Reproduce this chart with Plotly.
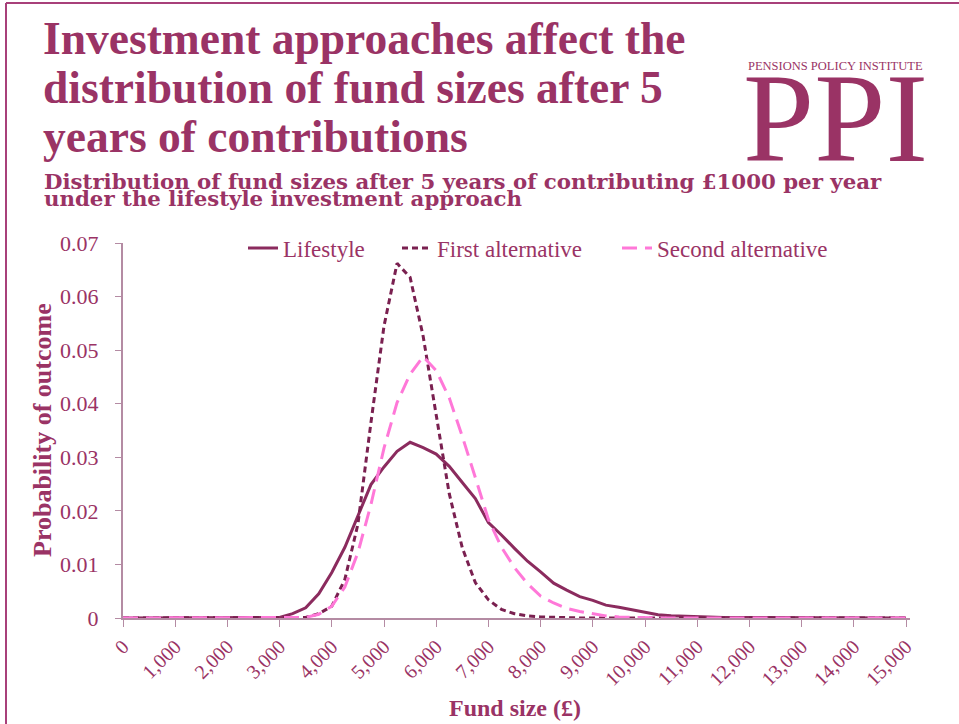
import plotly.graph_objects as go

# Fund size grid (£) and probability of each outcome for the three approaches
fund_size = [i * 250 for i in range(61)]

lifestyle = [
    0, 0, 0, 0, 0, 0, 0, 0, 0, 0, 0, 0,            # 0 - 2,750
    0.0001, 0.0008, 0.0019, 0.0045, 0.0085, 0.0132, 0.0192, 0.0249,
    0.0282, 0.0311, 0.0328, 0.0318, 0.0306, 0.0283, 0.0253, 0.0223,
    0.0178, 0.0155, 0.0130, 0.0106, 0.0086, 0.0065, 0.0052, 0.0040,
    0.0033, 0.0024, 0.0020, 0.0015, 0.0010, 0.0006, 0.0004, 0.0003,
    0.0002, 0.0002, 0.0001, 0.0001, 0.0001, 0.00005,
    0, 0, 0, 0, 0, 0, 0, 0, 0, 0, 0,                 # 12,500 - 15,000
]

first_alternative = [
    0, 0, 0, 0, 0, 0, 0, 0, 0, 0, 0, 0, 0, 0,       # 0 - 3,250
    0.0001, 0.0008, 0.0022, 0.0072, 0.0175, 0.0365, 0.0545, 0.0662,
    0.0636, 0.0526, 0.0381, 0.0232, 0.0131, 0.0066, 0.0034, 0.0016,
    0.0008, 0.0004, 0.0002, 0.0001, 0.00005,
    0, 0, 0, 0, 0, 0, 0, 0, 0, 0, 0, 0, 0, 0, 0, 0, 0, 0, 0, 0, 0, 0, 0, 0, 0, 0,
]

second_alternative = [
    0, 0, 0, 0, 0, 0, 0, 0, 0, 0, 0, 0, 0, 0,       # 0 - 3,250
    0.0001, 0.0007, 0.0022, 0.0058, 0.0122, 0.0212, 0.0317, 0.0402,
    0.0455, 0.0488, 0.0462, 0.0411, 0.0339, 0.0262, 0.0184, 0.0132,
    0.0094, 0.0064, 0.0041, 0.0028, 0.0018, 0.0012, 0.0008, 0.0004,
    0.0002, 0.0001, 0.00005,
    0, 0, 0, 0, 0, 0, 0, 0, 0, 0, 0, 0, 0, 0, 0, 0, 0, 0, 0, 0,
]

x_ticks = list(range(0, 15001, 1000))
x_tick_labels = [f"{v:,}" for v in x_ticks]
y_ticks = [0, 0.01, 0.02, 0.03, 0.04, 0.05, 0.06, 0.07]
y_tick_labels = ["0", "0.01", "0.02", "0.03", "0.04", "0.05", "0.06", "0.07"]

title_lines = [
    "Investment approaches affect the",
    "distribution of fund sizes after 5",
    "years of contributions",
]
subtitle_lines = [
    "Distribution of fund sizes after 5 years of contributing £1000 per year",
    "under the lifestyle investment approach",
]

W, H = 959, 724
L, R, T, B = 123, 910, 243, 618
PLUM = "#9A3365"
SERIF = "Liberation Serif"
WIDE_SERIF = "DejaVu Serif"


def px(x):
    return (x - L) / (R - L)


def py(y):
    return (B - y) / (B - T)


fig = go.Figure()
fig.add_trace(go.Scatter(
    x=fund_size, y=lifestyle, name="Lifestyle", mode="lines",
    line=dict(color="#8B2B5E", width=3), legend="legend", showlegend=True,
))
fig.add_trace(go.Scatter(
    x=fund_size, y=first_alternative, name="First alternative", mode="lines",
    line=dict(color="#7A2050", width=3, dash="6px,4px"), legend="legend2",
    showlegend=True,
))
fig.add_trace(go.Scatter(
    x=fund_size, y=second_alternative, name="Second alternative", mode="lines",
    line=dict(color="#FF78D8", width=3, dash="15px,8px"), legend="legend3",
    showlegend=True,
))

legend_style = dict(
    orientation="h", yanchor="middle", xanchor="left",
    font=dict(family=SERIF, size=23, color=PLUM),
    bgcolor="rgba(0,0,0,0)", borderwidth=0,
)
fig.update_layout(
    showlegend=True,
    legend=dict(x=px(243), y=py(248), **legend_style),
    legend2=dict(x=px(397), y=py(248), **legend_style),
    legend3=dict(x=px(617), y=py(248), **legend_style),
)

annotations = []
for i, line in enumerate(title_lines):
    annotations.append(dict(
        text=line, x=px(41), y=py(38.5 + 49 * i), xref="paper", yref="paper",
        xanchor="left", yanchor="middle", showarrow=False,
        font=dict(family=SERIF, size=45.5, color=PLUM, weight="bold"),
    ))
for i, line in enumerate(subtitle_lines):
    annotations.append(dict(
        text=line, x=px(42), y=py(181 + 17.5 * i), xref="paper", yref="paper",
        xanchor="left", yanchor="middle", showarrow=False,
        font=dict(family=WIDE_SERIF, size=21.3, color=PLUM, weight="bold"),
    ))
# Institute logo
annotations.append(dict(
    text="PENSIONS POLICY INSTITUTE", x=px(835), y=py(66), xref="paper", yref="paper",
    xanchor="center", yanchor="middle", showarrow=False,
    font=dict(family=SERIF, size=12.5, color=PLUM),
))
annotations.append(dict(
    text="PPI", x=px(835), y=py(118), xref="paper", yref="paper",
    xanchor="center", yanchor="middle", showarrow=False,
    font=dict(family=SERIF, size=128, color=PLUM),
))
# Axis titles
annotations.append(dict(
    text="Probability of outcome", x=px(42), y=py(430), xref="paper", yref="paper",
    xanchor="center", yanchor="middle", showarrow=False, textangle=-90,
    font=dict(family=SERIF, size=26, color=PLUM, weight="bold"),
))
annotations.append(dict(
    text="Fund size (£)", x=px(515), y=py(708), xref="paper", yref="paper",
    xanchor="center", yanchor="middle", showarrow=False,
    font=dict(family=SERIF, size=24, color=PLUM, weight="bold"),
))

# Page frame along the left and top edges
frame = "#A8407A"
shapes = [
    dict(type="line", xref="paper", yref="paper", x0=px(6), x1=px(6),
         y0=py(3), y1=py(H + 5), line=dict(color=frame, width=2)),
    dict(type="line", xref="paper", yref="paper", x0=px(6), x1=px(W + 5),
         y0=py(3), y1=py(3), line=dict(color=frame, width=2)),
]

axis_color = "#B48BA3"
fig.update_layout(
    width=W, height=H,
    margin=dict(l=L, r=W - R, t=T, b=H - B),
    paper_bgcolor="white", plot_bgcolor="white",
    annotations=annotations, shapes=shapes,
    xaxis=dict(
        range=[0, 15000 * (R - L) / 783], showgrid=False, zeroline=False,
        showline=True, linecolor=axis_color, linewidth=2,
        ticks="outside", ticklen=7, tickwidth=1, tickcolor=axis_color,
        tickvals=x_ticks, ticktext=x_tick_labels, tickangle=-45,
        tickfont=dict(family=SERIF, size=20, color=PLUM),
    ),
    yaxis=dict(
        range=[0, 0.07], showgrid=False, zeroline=False,
        showline=True, linecolor=axis_color, linewidth=2,
        ticks="outside", ticklen=6, tickwidth=1, tickcolor=axis_color,
        tickvals=y_ticks, ticktext=y_tick_labels,
        tickfont=dict(family=SERIF, size=22, color=PLUM),
        ticklabelstandoff=12,
    ),
)

fig.write_html("out.html", config={"displayModeBar": False})
